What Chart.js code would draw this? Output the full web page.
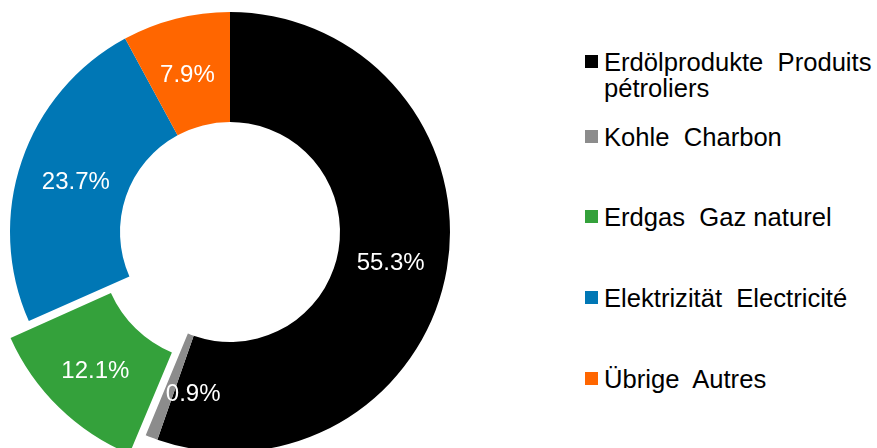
<!DOCTYPE html>
<html>
<head>
<meta charset="utf-8">
<script src="https://cdn.jsdelivr.net/npm/chart.js@4/dist/chart.umd.min.js"></script>
<style>
  html, body { margin: 0; padding: 0; background: #fff; }
  #wrap { position: relative; width: 877px; height: 448px; overflow: hidden; }
  #energy-chart { position: absolute; left: -28px; top: -26px; }
  #legend { position: absolute; left: 585px; top: 0; margin: 0; padding: 0; list-style: none;
            font-family: "Liberation Sans", Arial, Helvetica, sans-serif; font-size: 25.6px; color: #000; }
  #legend li { position: absolute; left: 0; width: 292px; display: flex; align-items: flex-start; line-height: 26px; }
  #legend .box { flex: 0 0 13px; width: 13px; height: 13px; margin-top: 6px; margin-right: 6px; }
  #legend .txt { white-space: pre-wrap; width: 272px; }
</style>
</head>
<body>
<div id="wrap">
  <canvas id="energy-chart" width="516" height="516"></canvas>
  <ul id="legend"></ul>
</div>
<script>
const categories = [
    'Erdölprodukte  Produits pétroliers',
    'Kohle  Charbon',
    'Erdgas  Gaz naturel',
    'Elektrizität  Electricité',
    'Übrige  Autres'
];
const shares = [55.3, 0.9, 12.1, 23.7, 7.9];
const shareLabels = ['55.3%', '0.9%', '12.1%', '23.7%', '7.9%'];
const colors = ['#000000', '#8c8c8c', '#34a13b', '#0077b5', '#ff6600'];
const explode = [0, 0, 76, 0, 0];

// legend rows (top of each row, px)
const legendTops = [49, 124, 204, 285, 366];

// the tiny coal slice has its label pushed over onto the black slice
const labelNudge = [[-2, 4], [22, 8], [-2, 4], [2, 4], [-2, 3]];

const labelFont = '24px "Liberation Sans", Arial, Helvetica, sans-serif';

const sliceLabels = {
    id: 'sliceLabels',
    afterDatasetsDraw(chart) {
        const ctx = chart.ctx;
        const meta = chart.getDatasetMeta(0);
        ctx.save();
        ctx.font = labelFont;
        ctx.fillStyle = '#fff';
        ctx.textAlign = 'center';
        ctx.textBaseline = 'middle';
        meta.data.forEach((arc, i) => {
            const p = arc.getProps(['x', 'y', 'startAngle', 'endAngle', 'innerRadius', 'outerRadius']);
            const mid = (p.startAngle + p.endAngle) / 2;
            const circ = p.endAngle - p.startAngle;
            const off = (explode[i] || 0) / 4;
            const shift = off * (1 + (1 - Math.sin(Math.min(Math.PI, circ))));
            const r = (p.innerRadius + p.outerRadius) / 2 + shift;
            const [nx, ny] = labelNudge[i];
            ctx.fillText(shareLabels[i], p.x + Math.cos(mid) * r + nx, p.y + Math.sin(mid) * r + ny);
        });
        ctx.restore();
    }
};

new Chart(document.getElementById('energy-chart'), {
    type: 'doughnut',
    data: {
        labels: categories,
        datasets: [{
            data: shares,
            backgroundColor: colors,
            borderWidth: 0,
            offset: explode,
            hoverOffset: 0
        }]
    },
    options: {
        responsive: false,
        devicePixelRatio: 1,
        animation: false,
        cutout: '50%',
        layout: { padding: 0 },
        plugins: {
            legend: { display: false },
            tooltip: { enabled: false }
        }
    },
    plugins: [sliceLabels]
});

const legend = document.getElementById('legend');
categories.forEach((name, i) => {
    const li = document.createElement('li');
    li.style.top = legendTops[i] + 'px';
    const box = document.createElement('span');
    box.className = 'box';
    box.style.background = colors[i];
    const txt = document.createElement('span');
    txt.className = 'txt';
    txt.textContent = name;
    li.appendChild(box);
    li.appendChild(txt);
    legend.appendChild(li);
});
</script>
</body>
</html>
